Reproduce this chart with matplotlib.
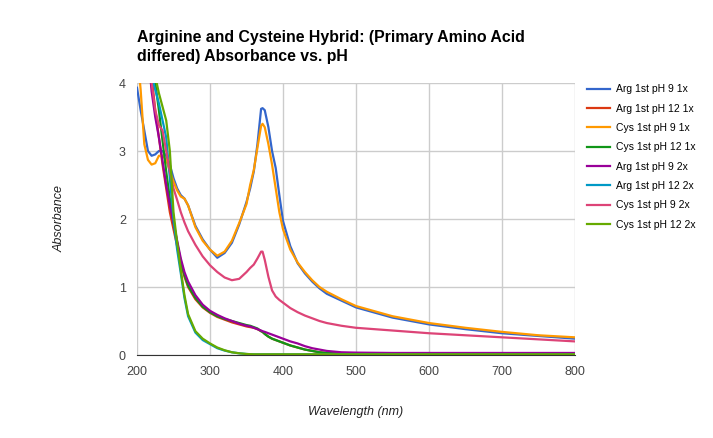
import matplotlib
matplotlib.use("Agg")
import matplotlib.pyplot as plt

plt.rcParams['font.family'] = ['Liberation Sans', 'DejaVu Sans']

wl = [200, 205, 210, 215, 220, 225, 230, 235, 240, 245, 250, 255, 260, 265, 270,
      280, 290, 300, 310, 320, 330, 340, 350, 355, 360, 365, 370, 372, 375, 380,
      385, 390, 395, 400, 410, 420, 430, 440, 450, 460, 480, 500, 550, 600, 650,
      700, 750, 800]

arg_9_1x = [3.93, 3.6, 3.3, 3.0, 2.93, 2.95, 3.0, 3.0, 2.93, 2.8, 2.6, 2.45, 2.35, 2.3, 2.2,
            1.9, 1.7, 1.55, 1.43, 1.5, 1.65, 1.92, 2.25, 2.45, 2.7, 3.1, 3.62, 3.63, 3.6, 3.35,
            3.0, 2.75, 2.35, 1.97, 1.6, 1.35, 1.2, 1.08, 0.98, 0.9, 0.8, 0.7, 0.55, 0.45, 0.38,
            0.32, 0.28, 0.24]
arg_12_1x = [7.0, 6.0, 5.2, 4.6, 4.1, 3.6, 3.2, 2.8, 2.45, 2.1, 1.85, 1.6, 1.35, 1.15, 1.0,
             0.82, 0.7, 0.62, 0.56, 0.52, 0.48, 0.45, 0.42, 0.41, 0.4, 0.38, 0.35, 0.34, 0.31, 0.27,
             0.24, 0.22, 0.2, 0.18, 0.14, 0.11, 0.08, 0.06, 0.04, 0.03, 0.02, 0.015, 0.015, 0.015, 0.015,
             0.015, 0.015, 0.015]
cys_9_1x = [4.5, 3.9, 3.1, 2.87, 2.8, 2.82, 2.93, 2.93, 2.87, 2.7, 2.55, 2.42, 2.33, 2.3, 2.2,
            1.88, 1.68, 1.55, 1.46, 1.52, 1.68, 1.94, 2.22, 2.5, 2.72, 3.05, 3.37, 3.4, 3.35, 3.1,
            2.8, 2.45, 2.1, 1.85, 1.55, 1.36, 1.22, 1.1, 1.0, 0.93, 0.82, 0.72, 0.57, 0.47, 0.4,
            0.34, 0.29, 0.26]
cys_12_1x = [7.0, 6.0, 5.2, 4.7, 4.3, 4.0, 3.6, 3.15, 2.7, 2.3, 1.95, 1.65, 1.38, 1.18, 1.02,
             0.84, 0.71, 0.63, 0.57, 0.53, 0.5, 0.47, 0.44, 0.43, 0.41, 0.39, 0.35, 0.34, 0.31, 0.27,
             0.24, 0.22, 0.2, 0.18, 0.14, 0.11, 0.08, 0.06, 0.04, 0.03, 0.02, 0.015, 0.015, 0.015, 0.015,
             0.015, 0.015, 0.015]
arg_9_2x = [7.0, 6.0, 5.2, 4.5, 3.88, 3.5, 3.2, 2.85, 2.5, 2.2, 1.95, 1.68, 1.42, 1.22, 1.08,
            0.88, 0.74, 0.65, 0.59, 0.54, 0.5, 0.46, 0.43, 0.42, 0.4, 0.38, 0.36, 0.35, 0.34, 0.32,
            0.3, 0.28, 0.26, 0.24, 0.2, 0.17, 0.13, 0.1, 0.08, 0.06, 0.04, 0.035, 0.03, 0.03, 0.03,
            0.03, 0.03, 0.03]
arg_12_2x = [7.0, 6.0, 5.2, 4.6, 4.1, 3.9, 3.7, 3.45, 3.2, 2.6, 2.0, 1.55, 1.2, 0.84, 0.57,
             0.33, 0.22, 0.16, 0.1, 0.065, 0.04, 0.025, 0.015, 0.012, 0.01, 0.01, 0.01, 0.01, 0.01, 0.01,
             0.01, 0.01, 0.01, 0.01, 0.01, 0.01, 0.01, 0.01, 0.01, 0.01, 0.01, 0.01, 0.01, 0.01, 0.01,
             0.01, 0.01, 0.01]
cys_9_2x = [6.0, 5.5, 5.0, 4.5, 4.0, 3.6, 3.38, 3.3, 3.0, 2.7, 2.45, 2.28, 2.1, 1.95, 1.82,
            1.62, 1.45, 1.32, 1.22, 1.14, 1.1, 1.12, 1.22, 1.28, 1.33, 1.42, 1.52, 1.52, 1.4, 1.15,
            0.95, 0.86, 0.81, 0.77, 0.69, 0.63, 0.58, 0.54, 0.5, 0.47, 0.43, 0.4, 0.36, 0.32, 0.29,
            0.26, 0.23, 0.2]
cys_12_2x = [7.0, 6.0, 5.2, 4.7, 4.4, 4.1, 3.85, 3.65, 3.45, 3.0, 2.1, 1.65, 1.25, 0.88, 0.6,
             0.35, 0.24, 0.17, 0.11, 0.07, 0.04, 0.025, 0.015, 0.012, 0.01, 0.01, 0.01, 0.01, 0.01, 0.01,
             0.01, 0.01, 0.01, 0.01, 0.01, 0.01, 0.01, 0.01, 0.01, 0.01, 0.01, 0.01, 0.01, 0.01, 0.01,
             0.01, 0.01, 0.01]

names = ["Arg 1st pH 9 1x", "Arg 1st pH 12 1x", "Cys 1st pH 9 1x", "Cys 1st pH 12 1x",
         "Arg 1st pH 9 2x", "Arg 1st pH 12 2x", "Cys 1st pH 9 2x", "Cys 1st pH 12 2x"]
series = [arg_9_1x, arg_12_1x, cys_9_1x, cys_12_1x, arg_9_2x, arg_12_2x, cys_9_2x, cys_12_2x]
colors = ["#3366cc", "#dc3912", "#ff9900", "#109618", "#990099", "#0099c6", "#dd4477", "#66aa00"]

fig = plt.figure(figsize=(7.13, 4.38), dpi=100)
ax = fig.add_axes([137/713, 1 - 355/438, 438/713, 272/438])

for name, vals, c in zip(names, series, colors):
    ax.plot(wl, vals, color=c, lw=1.6, label=name)

ax.set_xlim(200, 800)
ax.set_ylim(0, 4)
ax.set_xticks(range(200, 801, 100))
ax.set_yticks([0, 1, 2, 3, 4])
ax.grid(True, color="#cccccc", lw=1)
ax.set_axisbelow(True)
for s in ["top", "right", "left"]:
    ax.spines[s].set_visible(False)
ax.spines["bottom"].set_color("#333333")
ax.tick_params(length=0, labelsize=9, colors="#444444", pad=8)

ax.set_xlabel("Wavelength (nm)", fontstyle="italic", fontsize=9, color="#222222", labelpad=20)
ax.set_ylabel("Absorbance", fontstyle="italic", fontsize=9, color="#222222", labelpad=38)

fig.text(137/713, 1 - 47/438, "Arginine and Cysteine Hybrid: (Primary Amino Acid\ndiffered) Absorbance vs. pH",
         fontsize=11.4, fontweight="bold", va="center", ha="left", linespacing=1.3)

fig.legend(loc="upper left", bbox_to_anchor=(583/713, 1 - 80/438), frameon=False,
           fontsize=7.5, handlelength=2.2, handletextpad=0.6, labelspacing=0.9,
           borderaxespad=0)

fig.savefig("out.png", dpi=100)
